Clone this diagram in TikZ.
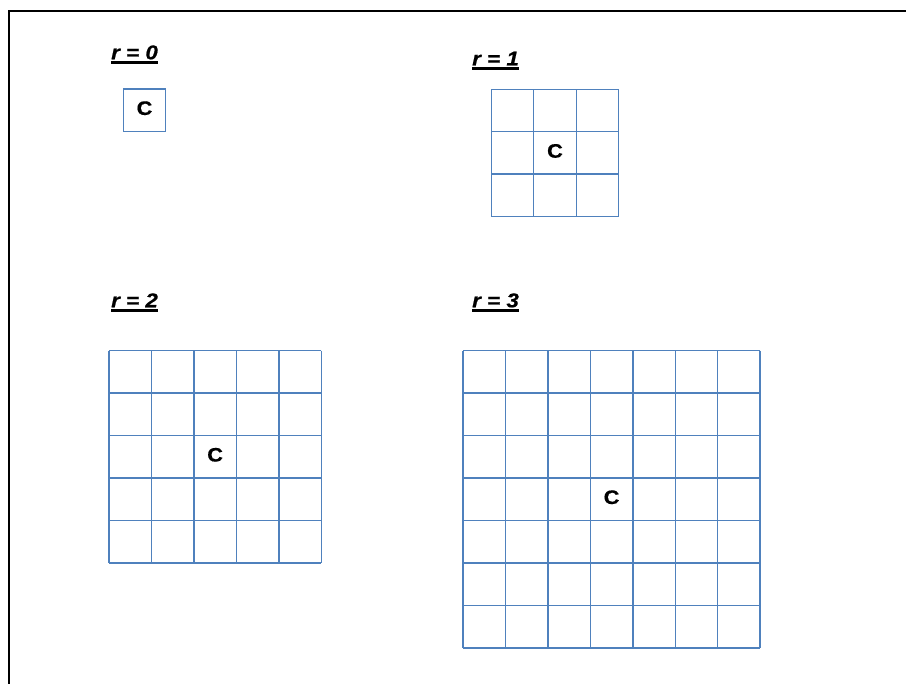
\documentclass[tikz,border=0pt]{standalone}
\usepackage{fontspec}
\setmainfont{Liberation Sans}
\newfontfamily\widefont[FakeStretch=1.12,FakeBold=0.6]{Liberation Sans}
\definecolor{gridblue}{HTML}{4F81BD}
\tikzset{
  x=1pt, y=-1pt,
  gridline/.style={draw=gridblue, line width=1.4pt},
  clabel/.style={inner sep=0pt, anchor=center, yshift=2pt, font=\widefont\bfseries\fontsize{19.5}{22}\selectfont},
  rlabel/.style={inner sep=0pt, anchor=base west, font=\widefont\bfseries\itshape\fontsize{20}{24}\selectfont},
  uline/.style={line width=2.6pt},
  frame/.style={line width=2pt, line join=miter}
}
\newcommand{\cellgrid}[4]{% x0, y0, n, node name
  \begin{scope}[shift={(#1,#2)}]
    \foreach \i in {0,...,#3}{
      \draw[gridline] (\i*42.45,0) -- (\i*42.45,#3*42.45);
      \draw[gridline] (0,\i*42.45) -- (#3*42.45,\i*42.45);
    }
    \node[clabel] (#4) at (#3*21.225,#3*21.225) {C};
  \end{scope}}
\begin{document}
\begin{tikzpicture}
\useasboundingbox (0,0) rectangle (906,684);
\fill[white] (0,0) rectangle (906,684);
% frame
\coordinate (fbl) at (9,684);
\coordinate (ftl) at (9,11);
\coordinate (ftr) at (906,11);
\draw[frame] (fbl) -- (ftl) -- (ftr);
% labels
\node[rlabel] (l0) at (111,59.3) {r = 0};
\node[rlabel] (l1) at (472,65.5) {r = 1};
\node[rlabel] (l2) at (111,307.3) {r = 2};
\node[rlabel] (l3) at (472,307.3) {r = 3};
\foreach \l in {l0,l1,l2,l3}{
  \draw[uline] ([yshift=-3.3pt]\l.base west) -- ([yshift=-3.3pt]\l.base east);
}
% grids
\cellgrid{123.3}{89}{1}{c0}
\cellgrid{491.3}{89.3}{3}{c1}
\cellgrid{109}{350.7}{5}{c2}
\cellgrid{463}{350.7}{7}{c3}
\end{tikzpicture}
\end{document}
